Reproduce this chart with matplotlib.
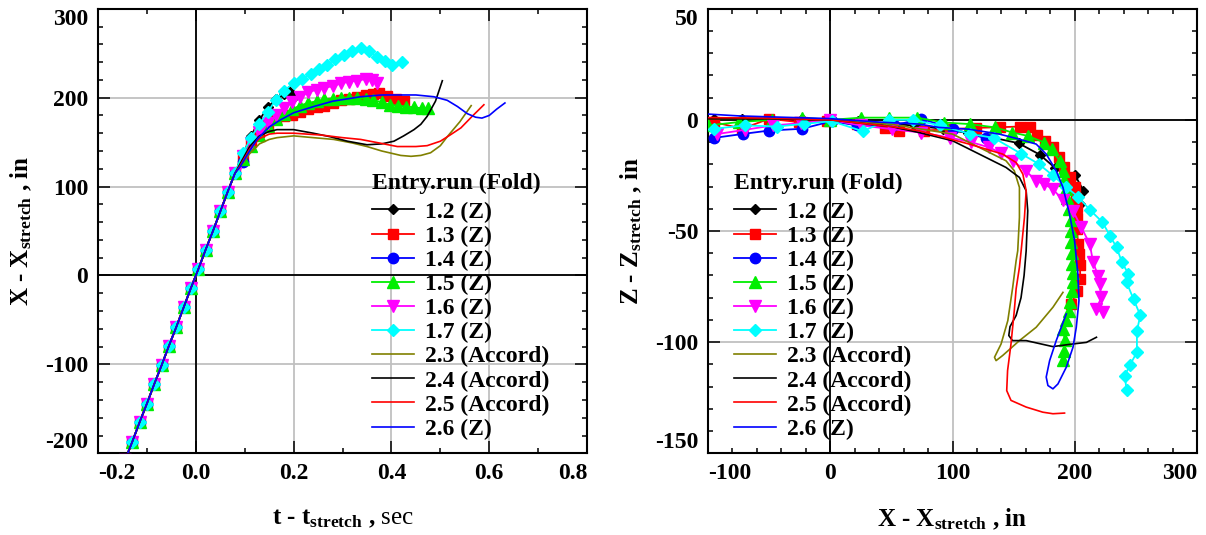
import matplotlib
matplotlib.use("Agg")
import numpy as np
import matplotlib.pyplot as plt
from matplotlib.ticker import MultipleLocator

plt.rcParams['font.family'] = ['Liberation Serif', 'DejaVu Serif']
plt.rcParams['font.weight'] = 'bold'
plt.rcParams['axes.labelweight'] = 'bold'
plt.rcParams['mathtext.fontset'] = 'custom'
plt.rcParams['mathtext.rm'] = 'Liberation Serif:normal'
plt.rcParams['mathtext.bf'] = 'Liberation Serif:bold'
plt.rcParams['mathtext.it'] = 'Liberation Serif:italic'

# ---- left panel: X - Xstretch (in) vs t - tstretch (s) ----
# shared approach ramp (all runs overlap here)
ramp_t = [-0.145, -0.13, -0.115, -0.1, -0.085, -0.07, -0.055, -0.04, -0.025, -0.01,
          0.005, 0.02, 0.035, 0.05, 0.065, 0.08]
ramp_x = [-208, -187, -165, -144, -122, -101, -79, -58, -36, -14, 7, 29, 50, 72, 94, 115]

l12_t = [0.097, 0.113, 0.13, 0.147, 0.163, 0.18, 0.19, 0.2]
l12_x = [137, 157, 175, 189, 198, 204, 207, 201]
l13_t = [0.097, 0.113, 0.13, 0.147, 0.163, 0.18, 0.197, 0.213, 0.23, 0.247, 0.263,
         0.28, 0.297, 0.313, 0.33, 0.347, 0.363, 0.375, 0.39, 0.41, 0.425]
l13_x = [134, 150, 161, 170, 176, 179, 181, 184, 187, 189, 191, 194, 197, 199, 201,
         203, 204, 205, 202, 198, 196]
l14_t = [0.097]
l14_x = [128]
l15_t = [0.097, 0.113, 0.13, 0.147, 0.163, 0.18, 0.197, 0.213, 0.23, 0.247, 0.263, 0.28,
         0.297, 0.313, 0.33, 0.347, 0.363, 0.38, 0.397, 0.413, 0.43, 0.447, 0.463, 0.475]
l15_x = [131, 146, 158, 168, 176, 182, 187, 191, 194, 196, 198, 199, 200, 200, 200, 199,
         197, 195, 192, 191, 190, 189, 188, 188]
l16_t = [0.097, 0.113, 0.13, 0.147, 0.163, 0.18, 0.197, 0.213, 0.23, 0.247, 0.263, 0.28,
         0.297, 0.313, 0.33, 0.347, 0.36, 0.371]
l16_x = [134, 149, 161, 171, 180, 188, 195, 201, 206, 209, 211, 213, 216, 218, 219, 221, 220, 216]
l17_t = [0.097, 0.113, 0.13, 0.147, 0.163, 0.18, 0.2, 0.217, 0.235, 0.252, 0.268, 0.285,
         0.302, 0.32, 0.337, 0.354, 0.371, 0.386, 0.402, 0.422]
l17_x = [138, 155, 170, 184, 197, 208, 216, 221, 227, 232, 237, 243, 248, 252, 256, 252,
         246, 241, 237, 240]

l23_t = [0.09, 0.11, 0.13, 0.15, 0.166, 0.2, 0.24, 0.282, 0.32, 0.35, 0.38, 0.419, 0.44,
         0.46, 0.48, 0.5, 0.514, 0.54, 0.563]
l23_x = [122, 137, 148, 153, 155, 157, 155, 153, 149, 145, 140, 135, 134, 135, 138, 146,
         156, 173, 191]
l24_t = [0.09, 0.11, 0.13, 0.15, 0.166, 0.2, 0.24, 0.275, 0.31, 0.35, 0.38, 0.405, 0.425,
         0.446, 0.46, 0.473, 0.49, 0.504]
l24_x = [125, 145, 157, 162, 164, 164, 160, 156, 151, 147, 148, 151, 157, 164, 170, 179, 196, 219]
l25_t = [0.09, 0.11, 0.13, 0.15, 0.166, 0.2, 0.255, 0.3, 0.337, 0.375, 0.412, 0.45, 0.473,
         0.5, 0.52, 0.542, 0.565, 0.589]
l25_x = [123, 142, 154, 159, 160, 160, 158, 155, 153, 149, 145, 145, 146, 151, 158, 166, 179, 192]
l26_t = [0.09, 0.11, 0.125, 0.15, 0.173, 0.2, 0.241, 0.28, 0.337, 0.38, 0.412, 0.45, 0.487,
         0.514, 0.535, 0.555, 0.572, 0.585, 0.6, 0.615, 0.632]
l26_x = [122, 140, 153, 167, 175, 183, 190, 196, 201, 203, 203, 203, 201, 197, 190, 182,
         178, 177, 180, 187, 194]

# ---- right panel: Z - Zstretch vs X - Xstretch (in) ----
r12_x = [-95, -72, -49, -23, 0, 23, 46, 69, 92, 113, 133, 154, 171.5, 184, 200, 207, 204]
r12_z = [0.5, 0.6, 0.6, 0.3, 0, -0.6, -1.5, -2.6, -4, -6, -8, -10.5, -15.7, -21.7, -24.7, -31.8, -37.8]
r13_x = [-95, -72, -50, -26, -3, 22, 45, 56, 77, 98, 119, 139, 155, 163, 169, 176, 182, 187,
         191.5, 196, 200, 201, 201.4, 202, 202, 202.5, 203.5, 204.2, 204.5, 201.8, 197.1]
r13_z = [-1, -4, 0.5, -1, -0.5, -2, -3.5, -4.8, -4.8, -4.2, -3.6, -3.3, -3, -3.2, -7, -9.5,
         -12.3, -16.5, -21.3, -25.5, -30.2, -35, -39.2, -44, -49, -55.7, -60.5, -65.4, -71.6,
         -76.8, -82.8]
r14_x = [-95, -71, -50, -23, 1, 22, 52, 74.5, 100, 127]
r14_z = [-8.1, -6.3, -4.8, -4, -0.6, -2.5, -2.5, 0.5, -4, -8.3]
r15_x = [-100, -75, -48, -23, 0, 25, 48, 71, 93, 114, 135, 149, 161.5, 175, 181, 187.5, 190.3,
         191, 193, 194, 195.5, 196.5, 197, 197, 197.5, 198, 198.5, 198.5, 197.5, 196, 195, 193,
         190.5, 191.7, 191, 190]
r15_z = [-2.5, -1, 0, 1, 0, 1, 1, 1, -1.2, -1.9, -3.4, -5.7, -7.2, -10.2, -13.2, -18.4, -22.9,
         -27, -31, -35, -40, -45, -50, -55, -60, -65, -69, -73, -77, -82, -86, -90, -94, -99,
         -104, -108]
r16_x = [-93, -70, -47, -24, 0, 25, 50.6, 74, 98, 115, 130, 140, 149.2, 160, 168.4, 175, 182,
         190, 198.5, 205, 212.2, 215, 219, 220.3, 221.7, 217.6, 223]
r16_z = [-6.4, -4.5, -2.5, -1.5, 0, -2.5, -4.2, -5.7, -8, -10, -12.4, -15, -18.4, -23, -27.4,
         -29, -31.1, -36, -40.9, -48, -55.8, -64.1, -70.1, -73.9, -79.8, -85.1, -86.6]
r17_x = [-95, -70, -44, -21.4, 1.1, 26.5, 47.7, 67.4, 90, 114, 133.7, 156.3, 170.4, 182, 193,
         202.8, 212.7, 222.6, 228.7, 234.2, 238.5, 243.7, 242.3, 248, 253.6, 250.8, 250.8, 245,
         240.9, 242.3]
r17_z = [-4, -2.5, -3, -1.8, -0.6, -5.1, 0, 0, -2.5, -6.3, -8.1, -15.3, -19.8, -25, -30.2, -34.7,
         -40.7, -46, -52.1, -57.4, -64, -69.2, -73.1, -80.6, -88, -94.8, -104.5, -110.4, -115, -121.6]

r23_x = [-100, -50, 0, 50, 100, 127.3, 143.7, 150.5, 154.7, 154.7, 153.3, 152, 149.2, 145.2,
         139.7, 134.3, 135.6, 141, 154.7, 168.4, 182.1, 190.3]
r23_z = [0.5, 0.5, 0, -2, -6.4, -13.9, -18.4, -22.9, -30.4, -43.9, -58.9, -63.3, -75.3, -90.3,
         -100.8, -106.8, -108.3, -106, -99.3, -93.3, -84.3, -77.6]
r24_x = [-100, -50, 0, 50, 72.6, 100, 127.3, 143.7, 154.7, 160.2, 161.5, 160.2, 158.5, 156, 152,
         147, 146, 149, 160.2, 182, 198.5, 209.5, 217.7]
r24_z = [0.5, 0.5, 0, -3, -5.7, -9.4, -16.9, -21.4, -25.9, -31.9, -40.9, -58.9, -70, -80, -88,
         -93, -97, -99.3, -99.3, -102, -100.8, -100.1, -97.8]
r25_x = [-100, -50, 0, 50, 72.6, 113.6, 141, 152, 157.5, 160.2, 158.8, 156.1, 154.7, 152, 150.5,
         147.8, 145, 144.3, 147.8, 160.2, 173.8, 182.1, 191.6]
r25_z = [1, 0.8, 0, -3, -4.9, -10.9, -15.4, -19.2, -24.4, -31.9, -43.9, -58.9, -66.3, -76, -85.8,
         -100.8, -112.8, -121.8, -126.2, -129.2, -131.5, -132.2, -131.9]
r26_x = [-100, -75.4, -40, -1.4, 40, 72.6, 89, 113.6, 138.2, 154.7, 168.4, 176.6, 184.8, 190.3,
         195.7, 199.8, 202.5, 203.4, 201.2, 198.5, 193, 186.2, 182.1, 178, 176.6, 179.4, 184.8,
         188.9, 193]
r26_z = [2.6, 1.8, 1.2, 0.6, -1, -1.9, -3.4, -4.2, -6.4, -8.7, -10.9, -15.4, -22.9, -30.4, -42.4,
         -54.4, -69.3, -81.3, -93.3, -102.3, -111.3, -118.8, -121, -119.5, -115.7, -108.3, -99.3,
         -93.3, -87.3]

marker_runs = [
    ("1.2 (Z)", "black", "D", 5.5, l12_t, l12_x, r12_x, r12_z),
    ("1.3 (Z)", "#ff0000", "s", 6.5, l13_t, l13_x, r13_x, r13_z),
    ("1.4 (Z)", "#0000ff", "o", 7.5, l14_t, l14_x, r14_x, r14_z),
    ("1.5 (Z)", "#00ee00", "^", 8.5, l15_t, l15_x, r15_x, r15_z),
    ("1.6 (Z)", "#ff00ff", "v", 8.5, l16_t, l16_x, r16_x, r16_z),
    ("1.7 (Z)", "#00ffff", "D", 6.5, l17_t, l17_x, r17_x, r17_z),
]
line_runs = [
    ("2.3 (Accord)", "#808000", l23_t, l23_x, r23_x, r23_z),
    ("2.4 (Accord)", "black", l24_t, l24_x, r24_x, r24_z),
    ("2.5 (Accord)", "#ff0000", l25_t, l25_x, r25_x, r25_z),
    ("2.6 (Z)", "#0000ff", l26_t, l26_x, r26_x, r26_z),
]

fig = plt.figure(figsize=(12.06, 5.35), dpi=100)
ax1 = fig.add_axes([0.0813, 0.1527, 0.4055, 0.8310])
ax2 = fig.add_axes([0.5871, 0.1527, 0.4055, 0.8310])

for name, c, m, ms, lt, lx, rx, rz in marker_runs:
    ax1.plot(ramp_t + lt, ramp_x + lx, color=c, marker=m, ms=ms, lw=1.3, label=name, zorder=3)
    ax2.plot(rx, rz, color=c, marker=m, ms=ms, lw=1.3, label=name, zorder=3)
for name, c, lt, lx, rx, rz in line_runs:
    ax1.plot(ramp_t + lt, ramp_x + lx, color=c, lw=1.2, label=name, zorder=4)
    ax2.plot(rx, rz, color=c, lw=1.2, label=name, zorder=4)


def style_axes(ax, xlim, ylim, xmaj, xmin, ymaj, ymin, xfmt):
    ax.set_xlim(*xlim)
    ax.set_ylim(*ylim)
    xt = np.arange(xlim[0], xlim[1] + xmaj / 2, xmaj)
    yt = np.arange(ylim[0], ylim[1] + ymaj / 2, ymaj)
    ax.set_xticks(xt)
    ax.set_yticks(yt)
    ax.set_xticklabels([xfmt.format(v + 0.0) for v in xt])
    ax.set_yticklabels(["%d" % v for v in yt])
    ax.xaxis.set_minor_locator(MultipleLocator(xmin))
    ax.yaxis.set_minor_locator(MultipleLocator(ymin))
    ax.tick_params(which='both', direction='in', top=True, right=True, labelsize=17, width=1.1)
    ax.tick_params(which='major', length=8.5, pad=7)
    ax.tick_params(which='minor', length=3.8)
    for s in ax.spines.values():
        s.set_linewidth(1.5)
    ax.grid(True, which='major', color='#c0c0c0', lw=1.3, zorder=0)
    ax.axhline(0, color='black', lw=1.3, zorder=1)
    ax.axvline(0, color='black', lw=1.3, zorder=1)
    ax.set_axisbelow(True)
    xl = ax.get_xticklabels()
    xl[0].set_ha('left')
    xl[-1].set_ha('right')
    yl = ax.get_yticklabels()
    yl[0].set_va('bottom')
    yl[-1].set_va('top')


style_axes(ax1, (-0.2, 0.8), (-200, 300), 0.2, 0.1, 100, 20, "{:.1f}")
style_axes(ax2, (-100, 300), (-150, 50), 100, 20, 50, 10, "{:.0f}")

sub = r'$_{\mathbf{stretch}}$'
ax1.set_xlabel('t - t' + sub + r' , $\mathrm{sec}$', fontsize=18, fontweight='bold')
ax1.set_ylabel('X - X' + sub + ' , in', fontsize=18, fontweight='bold')
ax2.set_xlabel('X - X' + sub + ' , in', fontsize=18, fontweight='bold')
ax2.set_ylabel('Z - Z' + sub + ' , in', fontsize=18, fontweight='bold')
for ax in (ax1, ax2):
    ax.xaxis.set_label_coords(0.5, -0.12)
    ax.yaxis.set_label_coords(-0.13, 0.5)

for ax, lx in ((ax1, 0.56), (ax2, 0.053)):
    leg = ax.legend(loc='upper left', bbox_to_anchor=(lx, 0.632), frameon=False,
                    title="Entry.run (Fold)", numpoints=1, fontsize=17,
                    title_fontproperties={'size': 17, 'weight': 'bold'},
                    handlelength=1.8, handletextpad=0.45, labelspacing=0.11,
                    borderpad=0, borderaxespad=0, alignment='left')
    leg._legend_box.sep = 5.5

fig.savefig("out.png", dpi=100)
